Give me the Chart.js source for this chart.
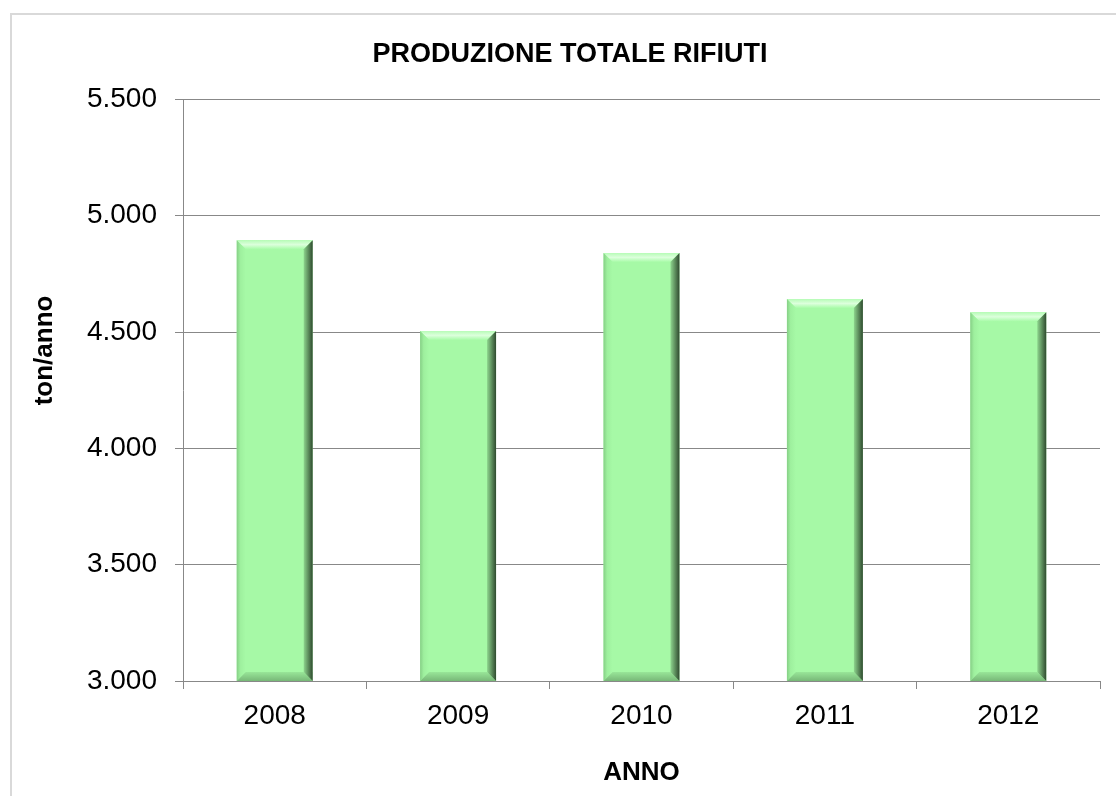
<!DOCTYPE html>
<html>
<head>
<meta charset="utf-8">
<script src="https://cdn.jsdelivr.net/npm/chart.js@4"></script>
<style>
  html, body { margin: 0; padding: 0; background: #fff; }
  #wrap { position: relative; width: 1116px; height: 796px; overflow: hidden; }
  #frame { position: absolute; left: 10px; top: 13px; width: 1200px; height: 900px; border: 2px solid #d9d9d9; box-sizing: border-box; }
  canvas { position: absolute; left: 0; top: 0; }
</style>
</head>
<body>
<div id="wrap">
  <div id="frame"></div>
  <canvas id="chart" width="1116" height="796"></canvas>
</div>
<script>
const years = ["2008", "2009", "2010", "2011", "2012"];
const rifiuti = [4895, 4505, 4840, 4642, 4585];
const yTicks = [3000, 3500, 4000, 4500, 5000, 5500];

const FONT = "'Liberation Sans', Arial, sans-serif";
const GRID = "#888888";

const fmt = (v) => String(v).replace(/\B(?=(\d{3})+(?!\d))/g, ".");

// fake Excel bevel on top of each bar
const bevelPlugin = {
  id: "bevel",
  afterDatasetsDraw(chart) {
    const ctx = chart.ctx;
    const area = chart.chartArea;
    chart.getDatasetMeta(0).data.forEach((bar) => {
      const { x, y, width } = bar.getProps(["x", "y", "width"], true);
      const base = area.bottom;
      const l = x - width / 2, r = x + width / 2, b = 9;
      ctx.save();

      let g = ctx.createLinearGradient(0, y, 0, y + b);
      g.addColorStop(0, "#b6fcb6");
      g.addColorStop(0.5, "#dcffdc");
      g.addColorStop(1, "#a8fba8");
      ctx.fillStyle = g;
      ctx.beginPath();
      ctx.moveTo(l, y); ctx.lineTo(r, y); ctx.lineTo(r - b, y + b); ctx.lineTo(l + b, y + b);
      ctx.closePath(); ctx.fill();

      g = ctx.createLinearGradient(l, 0, l + b, 0);
      g.addColorStop(0, "#86cf86");
      g.addColorStop(0.4, "#9ef09e");
      g.addColorStop(1, "#a6f9a6");
      ctx.fillStyle = g;
      ctx.beginPath();
      ctx.moveTo(l, y); ctx.lineTo(l + b, y + b); ctx.lineTo(l + b, base - b); ctx.lineTo(l, base);
      ctx.closePath(); ctx.fill();

      g = ctx.createLinearGradient(0, base - b, 0, base);
      g.addColorStop(0, "#98e698");
      g.addColorStop(1, "#78b878");
      ctx.fillStyle = g;
      ctx.beginPath();
      ctx.moveTo(l, base); ctx.lineTo(l + b, base - b); ctx.lineTo(r - b, base - b); ctx.lineTo(r, base);
      ctx.closePath(); ctx.fill();

      g = ctx.createLinearGradient(r - b - 2, 0, r, 0);
      g.addColorStop(0, "#a2f4a2");
      g.addColorStop(0.45, "#6fa86f");
      g.addColorStop(1, "#2f4a2f");
      ctx.fillStyle = g;
      ctx.beginPath();
      ctx.moveTo(r, y); ctx.lineTo(r - b, y + b); ctx.lineTo(r - b, base - b); ctx.lineTo(r, base);
      ctx.closePath(); ctx.fill();

      ctx.restore();
    });
  },
};

new Chart(document.getElementById("chart").getContext("2d"), {
  type: "bar",
  data: {
    labels: years,
    datasets: [
      {
        label: "Produzione totale rifiuti",
        data: rifiuti,
        backgroundColor: "#a6f9a6",
        borderWidth: 0,
        barPercentage: 0.414,
        categoryPercentage: 1,
      },
    ],
  },
  options: {
    responsive: false,
    animation: false,
    layout: { padding: { left: 40, right: 16, top: 0, bottom: 0 } },
    plugins: {
      legend: { display: false },
      tooltip: { enabled: false },
      title: {
        display: true,
        text: "PRODUZIONE TOTALE RIFIUTI",
        color: "#000",
        font: { family: FONT, size: 27, weight: "bold" },
        padding: { top: 38, bottom: 29 },
      },
    },
    scales: {
      x: {
        afterFit: (scale) => { scale.height = 115; },
        grid: { display: true, drawOnChartArea: false, color: GRID, tickLength: 8, offset: true },
        border: { color: GRID, width: 1 },
        ticks: { color: "#000", font: { family: FONT, size: 28 }, padding: 10 },
        title: {
          display: true,
          text: "ANNO",
          color: "#000",
          font: { family: FONT, size: 26, weight: "bold" },
          padding: { top: 8, bottom: 8 },
        },
      },
      y: {
        min: yTicks[0],
        max: yTicks[yTicks.length - 1],
        afterFit: (scale) => { scale.width = 143; },
        afterBuildTicks: (scale) => { scale.ticks = yTicks.map((v) => ({ value: v })); },
        grid: { color: GRID, tickLength: 8 },
        border: { color: GRID, width: 1 },
        ticks: { color: "#000", font: { family: FONT, size: 28 }, padding: 18, callback: (v) => fmt(v) },
        title: {
          display: true,
          // leading spaces lift the label above the axis middle, as in the original
          text: " ".repeat(11) + "ton/anno",
          color: "#000",
          font: { family: FONT, size: 26, weight: "bold", lineHeight: 0.4 },
          padding: { top: 0, bottom: 0 },
        },
      },
    },
  },
  plugins: [bevelPlugin],
});
</script>
</body>
</html>
